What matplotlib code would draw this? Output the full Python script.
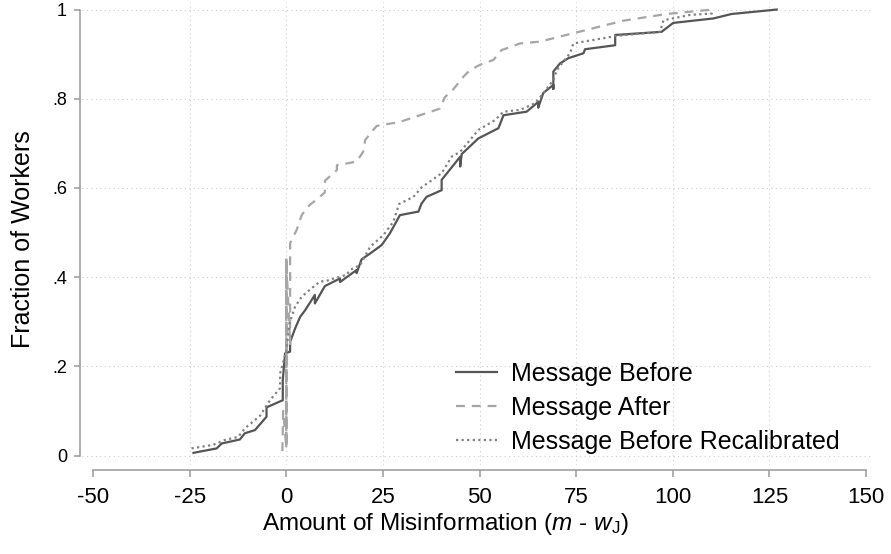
"""
plot.py — Empirical CDF of misinformation, before vs after the message.
"""

import matplotlib

matplotlib.use("Agg")
import matplotlib.pyplot as plt

plt.rcParams["font.family"] = "Liberation Sans"
plt.rcParams["axes.unicode_minus"] = False
plt.rcParams["mathtext.fontset"] = "custom"
plt.rcParams["mathtext.rm"] = "Liberation Sans"
plt.rcParams["mathtext.it"] = "Liberation Sans:italic"

# Cumulative fraction of workers by amount of misinformation (m - w_J)
before_x = [-24.0, -18.0, -16.7, -12.0, -10.7, -8.1, -5.1, -5.1, -0.9, -0.9,
            -0.3, 1.0, 1.0, 2.3, 3.6, 4.9, 7.4, 7.4, 10.0, 13.9, 13.9, 18.2,
            18.2, 19.5, 21.7, 24.7, 26.8, 29.4, 34.2, 35.0, 36.3, 40.2, 40.2,
            45.0, 45.0, 45.4, 49.7, 54.9, 56.2, 62.2, 65.2, 65.2, 66.5, 69.1,
            69.1, 69.1, 70.8, 73.0, 76.9, 77.3, 85.1, 85.1, 97.1, 100.1, 110.5,
            115.2, 126.9]
before_y = [0.006, 0.016, 0.027, 0.036, 0.050, 0.057, 0.087, 0.108, 0.124,
            0.169, 0.229, 0.233, 0.255, 0.285, 0.311, 0.326, 0.360, 0.341,
            0.380, 0.397, 0.389, 0.416, 0.409, 0.440, 0.453, 0.472, 0.498,
            0.539, 0.547, 0.565, 0.580, 0.595, 0.618, 0.670, 0.648, 0.676,
            0.711, 0.734, 0.763, 0.771, 0.793, 0.780, 0.813, 0.831, 0.822,
            0.861, 0.879, 0.891, 0.902, 0.911, 0.920, 0.943, 0.950, 0.970,
            0.980, 0.990, 1.000]

# ties at zero: the line runs up and down the same x several times
after_x = [-1.0, -0.8, 0.0, 0.0, 0.0, 0.0, 0.0, 0.0, 1.0, 1.0, 2.7, 4.0, 4.9,
           6.1, 8.3, 10.0, 10.0, 13.1, 13.1, 18.2, 19.9, 20.4, 22.1, 23.4,
           29.4, 34.6, 39.8, 41.0, 43.2, 45.8, 47.5, 50.1, 53.6, 55.7, 60.5,
           65.6, 74.3, 79.4, 87.2, 98.4, 110.3]
after_y = [0.010, 0.100, 0.020, 0.442, 0.020, 0.442, 0.018, 0.442, 0.250,
           0.476, 0.506, 0.539, 0.550, 0.562, 0.577, 0.590, 0.616, 0.640,
           0.651, 0.659, 0.681, 0.707, 0.726, 0.739, 0.748, 0.763, 0.778,
           0.803, 0.821, 0.849, 0.864, 0.876, 0.887, 0.909, 0.924, 0.928,
           0.947, 0.958, 0.975, 0.990, 1.000]

recal_x = [-24.5, -18.9, -15.8, -12.4, -10.7, -6.8, -4.2, -1.6, -1.6, 0.1,
           0.8, 2.3, 4.0, 5.7, 8.7, 10.5, 13.9, 15.6, 16.5, 19.1, 21.7, 25.1,
           27.7, 29.2, 32.9, 35.0, 40.2, 42.8, 45.0, 47.5, 49.7, 54.0, 56.2,
           60.5, 64.4, 66.5, 69.1, 70.0, 71.3, 73.4, 74.3, 85.5, 96.7, 97.6,
           104.5, 110.1, 110.1]
recal_y = [0.016, 0.024, 0.035, 0.042, 0.061, 0.089, 0.124, 0.151, 0.184,
           0.237, 0.296, 0.334, 0.356, 0.369, 0.390, 0.392, 0.401, 0.405,
           0.416, 0.427, 0.468, 0.494, 0.524, 0.564, 0.580, 0.601, 0.633,
           0.670, 0.681, 0.707, 0.730, 0.752, 0.771, 0.775, 0.790, 0.812,
           0.842, 0.864, 0.879, 0.902, 0.924, 0.941, 0.950, 0.976, 0.988,
           0.991, 1.000]

x_ticks = [-50, -25, 0, 25, 50, 75, 100, 125, 150]
y_ticks = [0, 0.2, 0.4, 0.6, 0.8, 1.0]
y_tick_labels = ["0", ".2", ".4", ".6", ".8", "1"]
series_labels = ["Message Before", "Message After",
                 "Message Before Recalibrated"]


def plot_misinformation_cdf() -> None:
    fig = plt.figure(figsize=(8.91, 5.54), dpi=100)
    ax = fig.add_axes([0.0920, 0.1606, 0.8878, 0.8357])

    ax.set_xlim(-52.85, 151.8)
    ax.set_ylim(-0.0213, 1.0168)

    # dotted grid, vertical lines only at the inner ticks
    ax.set_yticks(y_ticks)
    ax.set_yticklabels(y_tick_labels)
    ax.grid(axis="y", color="#cccccc", linestyle=(0, (1, 3)), linewidth=0.8)
    for xt in x_ticks[1:-1]:
        ax.axvline(xt, color="#cccccc", linestyle=(0, (1, 3)), linewidth=0.8,
                   zorder=0)

    ax.plot(before_x, before_y, color="#555555", linewidth=1.6,
            label=series_labels[0])
    ax.plot(after_x, after_y, color="#a6a6a6", linewidth=1.6,
            linestyle=(0, (4.0, 3.1)), label=series_labels[1])
    ax.plot(recal_x, recal_y, color="#808080", linewidth=1.6,
            linestyle=(0, (1, 1.5)), label=series_labels[2])

    ax.set_xticks(x_ticks)
    ax.tick_params(axis="x", labelsize=16, length=5, width=1.1,
                   color="#999999", pad=7)
    ax.tick_params(axis="y", labelsize=13, length=4.3, width=1.1,
                   color="#999999", pad=5)

    for side in ("top", "right"):
        ax.spines[side].set_visible(False)
    ax.spines["left"].set_position(("outward", 1.5))
    ax.spines["left"].set_bounds(0, 1)
    ax.spines["bottom"].set_position(("outward", 3.6))
    ax.spines["bottom"].set_bounds(-50, 150)
    for side in ("left", "bottom"):
        ax.spines[side].set_color("#999999")
        ax.spines[side].set_linewidth(1.1)

    ax.set_xlabel(r"Amount of Misinformation ($m$ - $w_{\mathrm{J}}$)",
                  fontsize=17.5, va="center")
    ax.xaxis.set_label_coords(0.4597, -0.127)
    ax.set_ylabel("Fraction of Workers", fontsize=18, va="center")
    ax.yaxis.set_label_coords(-0.0746, 0.4886)

    ax.legend(loc="center left", bbox_to_anchor=(456 / 891, 1 - 408 / 554),
              bbox_transform=fig.transFigure, frameon=False, fontsize=18,
              handlelength=1.62, handletextpad=0.58, labelspacing=0.4,
              borderpad=0, borderaxespad=0)

    fig.savefig("out.png", dpi=100)
    plt.close(fig)


if __name__ == "__main__":
    plot_misinformation_cdf()
